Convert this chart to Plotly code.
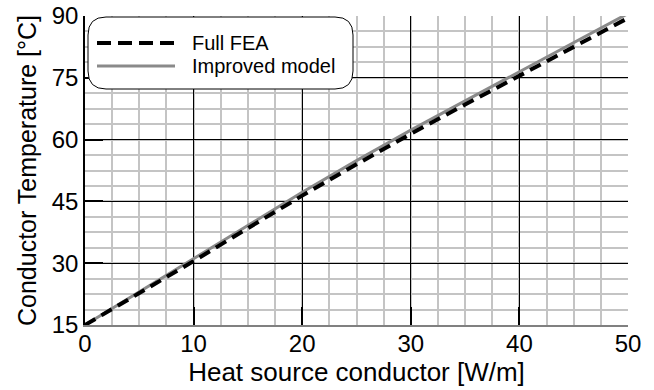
import plotly.graph_objects as go

# Heat source per unit length of conductor [W/m]
heat_source = [0, 5, 10, 15, 20, 25, 30, 35, 40, 45, 50]
# Conductor temperature [°C]
full_fea = [15, 22.7, 30.5, 38.5, 46.4, 54.0, 61.4, 68.5, 75.5, 82.4, 89.5]
improved_model = [15, 23.1, 31.0, 39.1, 47.2, 54.9, 62.3, 69.4, 76.4, 83.4, 90.6]

x_ticks = [0, 10, 20, 30, 40, 50]
y_ticks = [15, 30, 45, 60, 75, 90]

series_names = ["Full FEA", "Improved model"]

FONT = "Liberation Sans, Arial, sans-serif"
W, H = 654, 390
L, R, T, B = 85, 26, 16, 65
PW, PH = W - L - R, H - T - B


def px_x(px):
    return (px - L) / PW


def px_y(py):
    return (H - B - py) / PH


fig = go.Figure()

fig.add_trace(go.Scatter(
    x=heat_source, y=improved_model, mode="lines", name=series_names[1],
    line=dict(color="#8a8a8a", width=3), showlegend=False,
))
fig.add_trace(go.Scatter(
    x=heat_source, y=full_fea, mode="lines", name=series_names[0],
    line=dict(color="black", width=4, dash="12px,7px"), showlegend=False,
))

axis_common = dict(
    showgrid=True, gridcolor="black", gridwidth=1,
    ticks="inside", ticklen=18, tickwidth=2, tickcolor="black",
    tickfont=dict(family=FONT, size=24, color="black"),
    zeroline=False, automargin=False,
)

fig.update_xaxes(
    range=[0, 50], tickvals=x_ticks, ticklabelstandoff=-4,
    minor=dict(dtick=2.5, showgrid=True, gridcolor="#c4c4c4", gridwidth=1.5),
    showline=True, linecolor="#808080", linewidth=2,
    title=dict(text="Heat source conductor [W/m]", standoff=2,
               font=dict(family=FONT, size=26, color="black")),
    **axis_common,
)
fig.update_yaxes(
    range=[15, 90], tickvals=y_ticks,
    minor=dict(dtick=3.75, showgrid=True, gridcolor="#c4c4c4", gridwidth=1.5),
    showline=True, linecolor="black", linewidth=1.5,
    title=dict(text="Conductor Temperature [°C]", standoff=8,
               font=dict(family=FONT, size=25, color="black")),
    **axis_common,
)

# Legend: rounded white box with line samples and labels
x0, x1 = px_x(88), px_x(353)
y0, y1 = px_y(89), px_y(17)
rx, ry = 18 / PW, 18 / PH
box_path = (
    f"M{x0 + rx},{y1} L{x1 - rx},{y1} Q{x1},{y1} {x1},{y1 - ry} "
    f"L{x1},{y0 + ry} Q{x1},{y0} {x1 - rx},{y0} "
    f"L{x0 + rx},{y0} Q{x0},{y0} {x0},{y0 + ry} "
    f"L{x0},{y1 - ry} Q{x0},{y1} {x0 + rx},{y1} Z"
)
shapes = [
    dict(type="path", path=box_path, xref="paper", yref="paper",
         fillcolor="white", line=dict(color="black", width=1), layer="above"),
    dict(type="line", xref="paper", yref="paper",
         x0=px_x(97), x1=px_x(175), y0=px_y(43), y1=px_y(43),
         line=dict(color="black", width=4, dash="14px,7px"), layer="above"),
    dict(type="line", xref="paper", yref="paper",
         x0=px_x(97), x1=px_x(175), y0=px_y(66), y1=px_y(66),
         line=dict(color="#8a8a8a", width=3), layer="above"),
]
annotations = [
    dict(text=series_names[0], xref="paper", yref="paper", x=px_x(190), y=px_y(43),
         xanchor="left", yanchor="middle", showarrow=False,
         font=dict(family=FONT, size=20, color="black")),
    dict(text=series_names[1], xref="paper", yref="paper", x=px_x(190), y=px_y(66),
         xanchor="left", yanchor="middle", showarrow=False,
         font=dict(family=FONT, size=20, color="black")),
]

fig.update_layout(
    width=W, height=H,
    margin=dict(l=L, r=R, t=T, b=B),
    paper_bgcolor="white", plot_bgcolor="white",
    font=dict(family=FONT, color="black"),
    shapes=shapes, annotations=annotations,
    showlegend=False,
)

fig.write_html("out.html")
